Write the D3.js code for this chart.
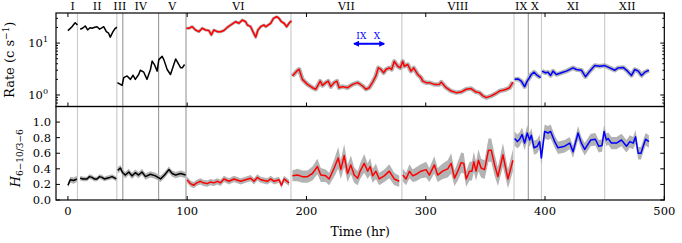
<!DOCTYPE html>
<html><head><meta charset="utf-8">
<script src="https://cdn.jsdelivr.net/npm/d3@7/dist/d3.min.js"></script>
<style>
body{margin:0;background:#fff}
svg{display:block}
text{font-family:'DejaVu Serif',serif;fill:#000}
</style>
</head><body><div id="chart"></div>
<script>
// ---- data: count rate (c/s) per segment, [hr, rate] ----
var rateI = [[0,17.4],[1.8,19],[3.4,20.7],[5,23],[6.1,24.7],[8,22.3]]
var rateII = [[10.3,18.5],[12.5,19.5],[14.5,21.4],[16.5,17.9],[18.5,19.8],[20.2,19.3],[22.5,20.2],[24.4,20.7],[26.6,18.5],[28.4,19.6],[30,20.7],[32.2,16.6],[34.1,15.5],[35.5,13.0],[37.8,16.6],[39.7,19.3],[41.1,20.2]]
var rateIIItoV = [[41.5,1.73],[45.4,1.53],[46.8,2.16],[49.6,2.33],[52.4,2.0],[54.6,2.4],[56.5,2.0],[59.3,2.48],[60.7,3.0],[63.6,2.75],[66.3,2.0],[69.2,3.1],[70.6,4.5],[72.5,3.86],[74.8,2.88],[76.2,4.8],[79,5.55],[80.4,4.8],[83.2,3.1],[86,2.48],[88.3,3.58],[90.3,4.94],[92.2,4.15],[94.5,3.33],[95.9,3.33],[97.8,3.86]]
var rateVI = [[99.2,19.3],[101.4,19.3],[104.2,20.7],[107,17.9],[109.8,16.6],[112.6,19.3],[115.4,17.9],[118.2,17.4],[120.2,14.4],[122.4,17.9],[125.2,16.6],[128,16.5],[130.8,17.5],[133.6,20],[136.4,22.3],[140.6,25.8],[143.4,24.1],[146.2,27.8],[149,25.8],[150.4,22.3],[153.2,20.7],[155.1,16.6],[157.4,13.0],[159.3,17.9],[161.6,20.7],[164.4,22.3],[165.8,20.7],[170,24.1],[172.3,30],[175,32.2],[177,30],[179,25.8],[181.2,24.1],[183.4,20.7],[185.4,24.1],[187.4,27]]
var rateVIItoVIII = [[188.2,2.33],[191.8,2.88],[193.8,3.13],[196.6,2.0],[200.8,1.6],[205,1.38],[207.8,1.29],[211.5,1.85],[213.4,1.53],[216.2,1.73],[218.2,1.85],[220.4,1.45],[223.2,1.73],[225.5,1.85],[227.4,1.38],[230.3,1.45],[234.5,1.38],[238.7,1.6],[242.9,1.73],[247.1,1.49],[249.8,1.29],[252.6,1.38],[255.5,1.77],[258.2,2.33],[260.2,3.33],[262.4,3.1],[264.7,2.68],[266.6,3.1],[269.4,3.33],[271.4,3.1],[273.6,4.45],[276.5,3.58],[278.7,3.33],[280.7,4.45],[282,3.58],[284.9,3.86],[287.6,2.88],[289.9,3.33],[293.3,2.48],[296,2.16],[297.5,1.85],[300.3,1.73],[303,1.73],[307.2,1.6],[311.4,1.6],[312.9,1.77],[317.1,1.38],[321.3,1.19],[325.5,1.11],[329.7,1.14],[333.9,1.29],[338,1.33],[342.2,1.14],[345,1.11],[347.9,0.96],[350.7,0.89],[354.9,0.96],[359.1,1.08],[361.8,1.19],[364.7,1.23],[367.5,1.29],[370.3,1.38],[373.1,1.77]]
var rateIXtoX = [[374.5,2.0],[377.3,2.04],[380.1,1.85],[382.9,1.45],[385.1,1.85],[388.5,2.48],[390.8,2.75],[393.5,2.38],[396.3,2.16]]
var rateXItoXII = [[397.5,2.88],[400.3,2.68],[402.5,2.75],[404.7,2.38],[406.7,2.88],[409.5,2.48],[413.7,2.68],[417.9,2.88],[423.5,3.33],[426.3,3.1],[430.5,3.0],[433.9,2.25],[437.5,2.88],[441.7,3.69],[445.9,3.58],[450.1,3.69],[454.3,3.33],[458.5,3.0],[461.3,3.33],[465.5,3.4],[469.2,2.88],[472.5,2.38],[475.3,3.1],[478.2,2.88],[480.9,2.38],[483.7,2.75],[487.1,3.0]]

// ---- data: hardness ratio, [hr, H, err] ----
var hardI = [[0,0.19,0.03],[2,0.26,0.04],[4.8,0.25,0.04],[7.5,0.27,0.04]]
var hardII = [[10.3,0.28,0.03],[13,0.27,0.03],[16,0.27,0.03],[18,0.30,0.03],[20.2,0.29,0.03],[22,0.27,0.03],[24.4,0.27,0.03],[26.5,0.30,0.03],[28.6,0.29,0.03],[30.5,0.27,0.03],[32.7,0.28,0.03],[35,0.29,0.03],[37,0.3,0.03],[40.6,0.27,0.03]]
var hardIIItoV = [[41.7,0.38,0.04],[44,0.41,0.04],[45.9,0.35,0.04],[48.2,0.32,0.04],[51,0.36,0.04],[53.7,0.31,0.04],[56.5,0.35,0.04],[59.3,0.32,0.04],[62.1,0.36,0.04],[65,0.30,0.04],[69.2,0.33,0.04],[73.4,0.31,0.04],[77.6,0.27,0.04],[81,0.32,0.04],[84.6,0.39,0.04],[87.4,0.34,0.04],[90.3,0.32,0.04],[94.5,0.34,0.04],[98.7,0.32,0.04]]
var hardVI = [[99.9,0.26,0.04],[102.7,0.21,0.04],[105.5,0.19,0.04],[108,0.22,0.04],[111.1,0.24,0.04],[113.5,0.22,0.04],[116.7,0.21,0.04],[119.5,0.23,0.04],[122.4,0.22,0.04],[125,0.24,0.04],[128,0.22,0.04],[130.8,0.27,0.04],[135,0.24,0.04],[139.2,0.27,0.04],[144.8,0.24,0.04],[149,0.26,0.04],[153.2,0.28,0.04],[156,0.24,0.04],[158.8,0.29,0.04],[161.6,0.26,0.04],[167.2,0.24,0.04],[170,0.27,0.04],[172.8,0.24,0.04],[177,0.26,0.04],[179,0.19,0.04],[181.2,0.27,0.04],[185.4,0.22,0.04]]
var hardVII = [[188.2,0.31,0.07],[192.4,0.32,0.08],[196.6,0.30,0.08],[200.8,0.30,0.08],[205,0.34,0.09],[209.2,0.43,0.1],[212,0.32,0.09],[216.2,0.31,0.08],[219,0.27,0.08],[223.2,0.41,0.11],[226.6,0.54,0.14],[228.8,0.39,0.12],[231.6,0.57,0.15],[234.5,0.34,0.11],[237.2,0.45,0.12],[240,0.32,0.1],[242.9,0.28,0.09],[245,0.37,0.1],[248.4,0.47,0.12],[251.3,0.37,0.1],[253.4,0.43,0.11],[255.5,0.31,0.09],[258.2,0.37,0.1],[261,0.27,0.08],[265.2,0.31,0.08],[269.4,0.37,0.09],[273.6,0.27,0.08],[277.8,0.24,0.07]]
var hardVIII = [[280.7,0.32,0.08],[283.5,0.27,0.08],[286.3,0.37,0.09],[289.1,0.31,0.08],[291.9,0.33,0.09],[296,0.37,0.09],[300.3,0.39,0.1],[303,0.32,0.09],[307.2,0.45,0.11],[310,0.32,0.09],[314.2,0.37,0.1],[318.4,0.40,0.11],[321.3,0.47,0.13],[324.1,0.28,0.1],[326.9,0.37,0.12],[329.7,0.48,0.13],[331.9,0.47,0.13],[333.9,0.27,0.1],[336.7,0.37,0.12],[338.7,0.37,0.12],[340.3,0.49,0.13],[342.2,0.37,0.12],[344.2,0.51,0.14],[346.4,0.41,0.12],[349.3,0.39,0.12],[352.6,0.64,0.15],[354.9,0.64,0.15],[357.7,0.45,0.14],[360.5,0.30,0.12],[364.7,0.58,0.15],[368.9,0.27,0.12],[373.1,0.51,0.14]]
var hardIXtoXII = [[374.5,0.79,0.09],[376.8,0.75,0.09],[378.7,0.78,0.09],[380.7,0.84,0.09],[382.9,0.73,0.09],[385.1,0.86,0.1],[387.1,0.77,0.09],[388.5,0.83,0.09],[390.8,0.67,0.09],[393.5,0.69,0.09],[395.5,0.75,0.09],[396.9,0.54,0.1],[399.7,0.88,0.09],[402.5,0.86,0.09],[404.7,0.88,0.09],[408.1,0.75,0.08],[410.9,0.67,0.08],[416.5,0.69,0.08],[420.7,0.73,0.08],[423.5,0.62,0.08],[427.7,0.86,0.09],[430.5,0.73,0.08],[433.3,0.65,0.08],[438.3,0.77,0.08],[442.2,0.78,0.08],[445,0.69,0.08],[447.8,0.70,0.08],[449.5,0.88,0.09],[451.5,0.77,0.08],[452.9,0.79,0.08],[455.7,0.73,0.08],[459.9,0.73,0.08],[464.1,0.77,0.08],[468.3,0.69,0.08],[471.1,0.75,0.08],[473.9,0.73,0.08],[475.9,0.81,0.09],[478.1,0.60,0.08],[480.4,0.60,0.08],[482.3,0.69,0.08],[484.3,0.78,0.08],[487.1,0.75,0.08]]

// ---- segments: boundaries (hr), names, label centres (hr) ----
var segBounds = [8, 41, 46, 76, 99, 187, 280, 374, 386, 397, 450]
var segDark = [false, false, true, true, true, false, false, false, true, false, false]
var segNames = ['I','II','III','IV','V','VI','VII','VIII','IX','X','XI','XII']
var segCenters = [4, 24.5, 43.5, 61, 87.5, 143, 233.5, 327, 380, 391.5, 423.5, 469]

var xTicks = [0, 100, 200, 300, 400, 500]
var rateMajor = [1, 10]
var rateMinor = [0.6, 0.7, 0.8, 0.9, 2, 3, 4, 5, 6, 7, 8, 9, 20, 30]
var hardTicks = [0, 0.2, 0.4, 0.6, 0.8, 1.0]
// IX <-> X arrow annotation (hr, rate)
var arrowSpan = [240, 252.5, 265]
var arrowY = 9.7

var W = 682, H = 243
// panel edges (px)
var P = {l: 56, r: 664.3, t: 13, m: 106.5, b: 200}

var svg = d3.select('#chart').append('svg').attr('width', W).attr('height', H)

var x = d3.scaleLinear().domain([-10, 500]).range([P.l, P.r])
var yR = d3.scaleLog().domain([0.6, 38]).range([P.m, P.t])
var yH = d3.scaleLinear().domain([0, 1.2]).range([P.b, P.m])

var RED = '#ff0000', BLUE = '#0000ff', BAND = '#b3b3b3'

// clip paths
var defs = svg.append('defs')
defs.append('clipPath').attr('id', 'clipTop').append('rect')
  .attr('x', P.l).attr('y', P.t).attr('width', P.r - P.l).attr('height', P.m - P.t)
defs.append('clipPath').attr('id', 'clipBot').append('rect')
  .attr('x', P.l).attr('y', P.m).attr('width', P.r - P.l).attr('height', P.b - P.m)

// ---- segment boundaries (span both panels) ----
svg.append('g').selectAll('line').data(segBounds).join('line')
  .attr('x1', d => x(d)).attr('x2', d => x(d)).attr('y1', P.t).attr('y2', P.b)
  .attr('stroke', (d, i) => segDark[i] ? '#a0a0a0' : '#cccccc').attr('stroke-width', 1.2)

// ---- top panel: rate ----
var gTop = svg.append('g').attr('clip-path', 'url(#clipTop)')
var rateLine = d3.line().x(d => x(d[0])).y(d => yR(d[1]))
var rateSets = [
  {d: rateI, c: '#000', halo: 0}, {d: rateII, c: '#000', halo: 0},
  {d: rateIIItoV, c: '#000', halo: 0}, {d: rateVI, c: RED, halo: 3},
  {d: rateVIItoVIII, c: RED, halo: 4.5}, {d: rateIXtoX, c: BLUE, halo: 4.5},
  {d: rateXItoXII, c: BLUE, halo: 4.5}
]
rateSets.forEach(function(s){
  if (s.halo) gTop.append('path').attr('d', rateLine(s.d))
    .attr('fill', 'none').attr('stroke', BAND).attr('stroke-width', s.halo).attr('stroke-linejoin', 'round')
  gTop.append('path').attr('d', rateLine(s.d))
    .attr('fill', 'none').attr('stroke', s.c).attr('stroke-width', 1.5).attr('stroke-linejoin', 'round')
})

// ---- bottom panel: hardness with error band ----
var gBot = svg.append('g').attr('clip-path', 'url(#clipBot)')
var hardLine = d3.line().x(d => x(d[0])).y(d => yH(d[1]))
var hardArea = d3.area().x(d => x(d[0])).y0(d => yH(d[1] - d[2])).y1(d => yH(d[1] + d[2]))
var hardSets = [
  {d: hardI, c: '#000'}, {d: hardII, c: '#000'}, {d: hardIIItoV, c: '#000'},
  {d: hardVI, c: RED}, {d: hardVII, c: RED}, {d: hardVIII, c: RED}, {d: hardIXtoXII, c: BLUE}
]
hardSets.forEach(function(s){
  gBot.append('path').attr('d', hardArea(s.d)).attr('fill', BAND)
})
hardSets.forEach(function(s){
  gBot.append('path').attr('d', hardLine(s.d))
    .attr('fill', 'none').attr('stroke', s.c).attr('stroke-width', 1.5).attr('stroke-linejoin', 'round')
})

// ---- frames ----
svg.append('rect').attr('x', P.l).attr('y', P.t).attr('width', P.r - P.l).attr('height', P.m - P.t)
  .attr('fill', 'none').attr('stroke', '#000').attr('stroke-width', 1.2)
svg.append('rect').attr('x', P.l).attr('y', P.m).attr('width', P.r - P.l).attr('height', P.b - P.m)
  .attr('fill', 'none').attr('stroke', '#000').attr('stroke-width', 1.2)

// ---- ticks (inward, all sides) ----
var gT = svg.append('g').attr('stroke', '#000').attr('stroke-width', 1)
function vTicks(y0, dir, len){
  gT.append('g').selectAll('line').data(xTicks).join('line')
    .attr('x1', d => x(d)).attr('x2', d => x(d)).attr('y1', y0).attr('y2', y0 + dir * len)
}
vTicks(P.t, 1, 4); vTicks(P.m, -1, 4); vTicks(P.b, -1, 4)
function hTicks(vals, sc, len){
  gT.append('g').selectAll('line').data(vals).join('line')
    .attr('x1', P.l).attr('x2', P.l + len).attr('y1', d => sc(d)).attr('y2', d => sc(d))
  gT.append('g').selectAll('line').data(vals).join('line')
    .attr('x1', P.r).attr('x2', P.r - len).attr('y1', d => sc(d)).attr('y2', d => sc(d))
}
hTicks(rateMajor, yR, 4); hTicks(rateMinor, yR, 2); hTicks(hardTicks, yH, 4)

// ---- tick labels ----
svg.append('g').selectAll('text').data(xTicks).join('text')
  .attr('x', d => x(d)).attr('y', 215).attr('text-anchor', 'middle').attr('font-size', 11.5)
  .text(d => d)
var rl = svg.append('g').selectAll('text').data(rateMajor).join('text')
  .attr('x', P.l - 8).attr('y', d => yR(d) + 4).attr('text-anchor', 'end').attr('font-size', 11.5)
rl.append('tspan').text('10')
rl.append('tspan').attr('dy', -5).attr('font-size', 8).text(d => Math.round(Math.log10(d)))
svg.append('g').selectAll('text').data(hardTicks).join('text')
  .attr('x', P.l - 5).attr('y', d => yH(d) + 4).attr('text-anchor', 'end').attr('font-size', 11.5)
  .text(d => d.toFixed(1))

// ---- segment names ----
svg.append('g').selectAll('text').data(segNames).join('text')
  .attr('x', (d, i) => x(segCenters[i])).attr('y', 10).attr('text-anchor', 'middle').attr('font-size', 11)
  .text(d => d)

// ---- axis titles ----
svg.append('text').attr('x', (P.l + P.r) / 2).attr('y', 236).attr('text-anchor', 'middle')
  .attr('font-size', 12.5).text('Time (hr)')
var rt = svg.append('text').attr('transform', 'translate(14,' + ((P.t + P.m) / 2) + ') rotate(-90)')
  .attr('text-anchor', 'middle').attr('font-size', 13)
rt.append('tspan').text('Rate (c s')
rt.append('tspan').attr('dy', -5).attr('font-size', 9).text('\u22121')
rt.append('tspan').attr('dy', 5).text(')')
var ht = svg.append('text').attr('transform', 'translate(20,' + ((P.m + P.b) / 2 + 5) + ') rotate(-90)')
  .attr('text-anchor', 'middle').attr('font-size', 13)
ht.append('tspan').attr('font-style', 'italic').text('H')
ht.append('tspan').attr('dy', 3).attr('font-size', 9).text('6\u221210/3\u22126')

// ---- IX <-> X annotation ----
var ay = yR(arrowY)
var ga = svg.append('g')
defs.append('marker').attr('id', 'ah').attr('viewBox', '0 0 10 10').attr('refX', 8).attr('refY', 5)
  .attr('markerWidth', 6).attr('markerHeight', 6).attr('markerUnits', 'userSpaceOnUse').attr('orient', 'auto')
  .append('path').attr('d', 'M0,0L10,5L0,10Z').attr('fill', BLUE)
ga.append('line').attr('x1', x(arrowSpan[1])).attr('x2', x(arrowSpan[0])).attr('y1', ay).attr('y2', ay)
  .attr('stroke', BLUE).attr('stroke-width', 2).attr('marker-end', 'url(#ah)')
ga.append('line').attr('x1', x(arrowSpan[1])).attr('x2', x(arrowSpan[2])).attr('y1', ay).attr('y2', ay)
  .attr('stroke', BLUE).attr('stroke-width', 2).attr('marker-end', 'url(#ah)')
ga.append('text').attr('x', x(arrowSpan[0] + 6)).attr('y', ay - 5).attr('text-anchor', 'middle')
  .attr('font-size', 9).style('fill', BLUE).text('IX')
ga.append('text').attr('x', x(arrowSpan[2] - 6)).attr('y', ay - 5).attr('text-anchor', 'middle')
  .attr('font-size', 9).style('fill', BLUE).text('X')
</script>
</body></html>
